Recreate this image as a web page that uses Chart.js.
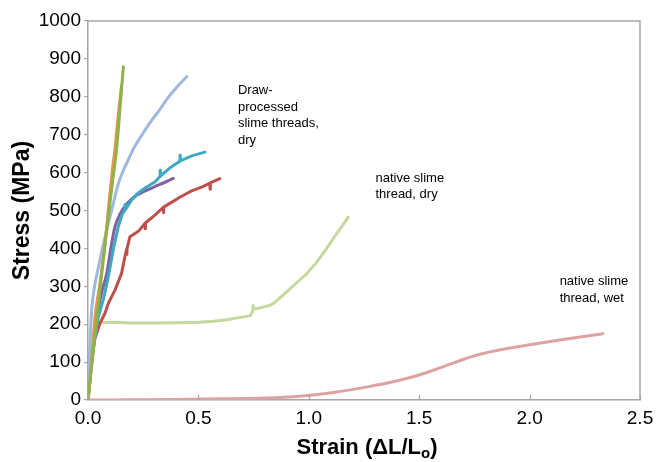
<!DOCTYPE html>
<html>
<head>
<meta charset="utf-8">
<title>Stress–strain curves of slime threads</title>
<script src="https://cdn.jsdelivr.net/npm/chart.js@4.4.1/dist/chart.umd.min.js"></script>
<style>
  html, body { margin: 0; padding: 0; background: #ffffff; }
  #wrap { width: 658px; height: 462px; position: relative; }
</style>
</head>
<body>
<div id="wrap"><canvas id="chart"></canvas></div>
<script>
// Strain (ΔL/Lo) and stress (MPa) pairs for each tested thread.
// Draw-processed threads, dry
const drawnOlive = [[0,0],[0.02,110],[0.05,270],[0.08,425],[0.11,570],[0.13,665],[0.145,770],[0.16,879]];
const drawnOrange = [[0,0],[0.01,55],[0.032,220],[0.054,308],[0.077,413],[0.095,520],[0.114,625],[0.122,660],[0.135,740],[0.152,831]];
const drawnSky = [[0,0],[0.005,90],[0.01,160],[0.017,240],[0.03,300],[0.047,350],[0.077,430],[0.107,500],[0.137,570],[0.16,606],[0.182,633],[0.205,662],[0.245,700],[0.281,732],[0.326,767],[0.36,796],[0.40,824],[0.447,853]];
const drawnTeal = [[0,0],[0.01,60],[0.024,138],[0.047,220],[0.069,264],[0.092,325],[0.114,396],[0.137,457],[0.155,490],[0.167,501],[0.168,516],[0.169,502],[0.2,530],[0.228,547],[0.265,562],[0.303,575],[0.326,590],[0.327,606],[0.328,591],[0.37,612],[0.416,630],[0.417,646],[0.418,631],[0.47,644],[0.529,654]];
const drawnPurple = [[0,0],[0.015,100],[0.054,264],[0.085,334],[0.107,413],[0.122,457],[0.145,491],[0.18,520],[0.22,540],[0.265,553],[0.303,563],[0.35,575],[0.386,585]];
const drawnRed = [[0,0],[0.01,70],[0.03,160],[0.054,202],[0.077,229],[0.092,255],[0.122,290],[0.152,334],[0.167,378],[0.175,398],[0.176,384],[0.177,400],[0.19,431],[0.228,445],[0.258,466],[0.259,452],[0.26,467],[0.303,488],[0.341,508],[0.342,494],[0.343,509],[0.38,522],[0.416,535],[0.47,552],[0.52,563],[0.552,572],[0.553,556],[0.554,573],[0.597,584]];
// Native slime thread, dry
const nativeDry = [[0,0],[0.009,70],[0.017,114],[0.032,167],[0.047,202],[0.06,204],[0.1,205],[0.2,203],[0.3,203],[0.4,204],[0.5,205],[0.57,208],[0.63,212],[0.69,218],[0.733,222],[0.745,232],[0.748,249],[0.752,240],[0.78,243],[0.82,249],[0.84,255],[0.88,275],[0.914,293],[0.95,312],[0.99,333],[1.035,363],[1.08,399],[1.125,438],[1.15,458],[1.178,482]];
// Native slime thread, wet
const nativeWet = [[0,0],[0.2,0.5],[0.4,1.5],[0.6,3],[0.8,5],[0.959,10],[1.11,20],[1.26,34],[1.41,52],[1.50,66],[1.59,84],[1.68,103],[1.77,120],[1.88,134],[2.015,147],[2.166,161],[2.332,175]];

// Axis ticks
const strainTicks = [0, 0.5, 1.0, 1.5, 2.0, 2.5];
const stressTicks = [0, 100, 200, 300, 400, 500, 600, 700, 800, 900, 1000];

// Text labels placed beside the curve groups (strain, stress of first line)
const groupLabels = [
  { lines: ['Draw-', 'processed', 'slime threads,', 'dry'], strain: 0.679, stress: 816 },
  { lines: ['native slime', 'thread, dry'], strain: 1.302, stress: 585 },
  { lines: ['native slime', 'thread, wet'], strain: 2.136, stress: 312 }
];

const FONT = "'Liberation Sans', Arial, Helvetica, sans-serif";
const AXIS_GREY = '#a6a6a6';

const toPoints = arr => arr.map(([x, y]) => ({ x, y }));

function series(data, color, smooth) {
  const ds = {
    data: toPoints(data),
    borderColor: color,
    backgroundColor: color,
    borderWidth: 3,
    pointRadius: 0,
    pointHoverRadius: 0,
    tension: 0,
    fill: false,
    borderCapStyle: 'round',
    borderJoinStyle: 'round'
  };
  if (smooth) ds.cubicInterpolationMode = 'monotone';
  return ds;
}

// Frame on the top and right, inward tick marks on the strain axis,
// the strain-axis title with its subscript, and the group labels.
const decorations = {
  id: 'decorations',
  afterDraw(chart) {
    const { ctx, chartArea: a, scales } = chart;
    ctx.save();
    ctx.strokeStyle = AXIS_GREY;
    ctx.lineWidth = 1.5;
    ctx.beginPath();
    ctx.moveTo(a.left, a.top);
    ctx.lineTo(a.right, a.top);
    ctx.lineTo(a.right, a.bottom);
    ctx.stroke();

    ctx.lineWidth = 1.2;
    strainTicks.forEach(v => {
      const px = Math.round(scales.x.getPixelForValue(v)) + 0.5;
      ctx.beginPath();
      ctx.moveTo(px, a.bottom);
      ctx.lineTo(px, a.bottom - 5);
      ctx.stroke();
    });

    // Strain (ΔL/Lo) title
    ctx.fillStyle = '#000';
    ctx.textBaseline = 'alphabetic';
    ctx.textAlign = 'left';
    const big = 'bold 22px ' + FONT;
    const small = 'bold 15px ' + FONT;
    ctx.font = big;
    const p1 = 'Strain (\u0394L/L';
    const p3 = ')';
    const w1 = ctx.measureText(p1).width;
    const w3 = ctx.measureText(p3).width;
    ctx.font = small;
    const w2 = ctx.measureText('o').width;
    const total = w1 + w2 + w3;
    const cx = (a.left + a.right) / 2 + 3;
    const x = cx - total / 2;
    const base = 454;
    ctx.font = big;
    ctx.fillText(p1, x, base);
    ctx.font = small;
    ctx.fillText('o', x + w1, base + 4);
    ctx.font = big;
    ctx.fillText(p3, x + w1 + w2, base);

    // Group labels
    ctx.font = '13px ' + FONT;
    ctx.textBaseline = 'middle';
    groupLabels.forEach(g => {
      const lx = scales.x.getPixelForValue(g.strain);
      const ly = scales.y.getPixelForValue(g.stress);
      g.lines.forEach((t, i) => ctx.fillText(t, lx, ly + i * 16.5));
    });
    ctx.restore();
  }
};

new Chart(document.getElementById('chart'), {
  type: 'line',
  data: {
    datasets: [
      series(drawnOlive, '#8fb24c', true),
      series(drawnOrange, '#ef9440', true),
      series(drawnSky, '#9fb9dc', true),
      series(drawnTeal, '#3fa8c2', false),
      series(drawnPurple, '#7f62a2', true),
      series(drawnRed, '#bf4f4b', false),
      series(nativeDry, '#c5d89e', false),
      series(nativeWet, '#dca3a2', true)
    ]
  },
  options: {
    responsive: true,
    maintainAspectRatio: false,
    animation: false,
    events: [],
    layout: { padding: { top: 21, right: 18, bottom: 0, left: 0 } },
    plugins: {
      legend: { display: false },
      tooltip: { enabled: false },
      title: { display: false }
    },
    scales: {
      x: {
        type: 'linear',
        min: 0,
        max: 2.5,
        afterBuildTicks: s => { s.ticks = strainTicks.map(v => ({ value: v })); },
        afterFit: s => { s.height = 62; s.paddingLeft = 0; s.paddingRight = 0; },
        ticks: {
          color: '#000',
          font: { family: FONT, size: 19 },
          padding: 7,
          maxRotation: 0,
          callback: v => Number(v).toFixed(1)
        },
        grid: { drawOnChartArea: false, drawTicks: false, color: AXIS_GREY },
        border: { color: AXIS_GREY, width: 1.5 },
        title: { display: false }
      },
      y: {
        type: 'linear',
        min: 0,
        max: 1000,
        afterBuildTicks: s => { s.ticks = stressTicks.map(v => ({ value: v })); },
        afterFit: s => { s.width = 88; s.paddingTop = 0; s.paddingBottom = 0; },
        ticks: {
          color: '#000',
          font: { family: FONT, size: 19 },
          padding: 3,
          callback: v => String(v)
        },
        grid: { drawOnChartArea: false, drawTicks: true, tickLength: 4, color: AXIS_GREY, lineWidth: 1.2 },
        border: { color: AXIS_GREY, width: 1.5 },
        title: {
          display: true,
          text: 'Stress (MPa)',
          color: '#000',
          font: { family: FONT, size: 23, weight: 'bold' },
          padding: { top: 9, bottom: 0 }
        }
      }
    }
  },
  plugins: [decorations]
});
</script>
</body>
</html>
